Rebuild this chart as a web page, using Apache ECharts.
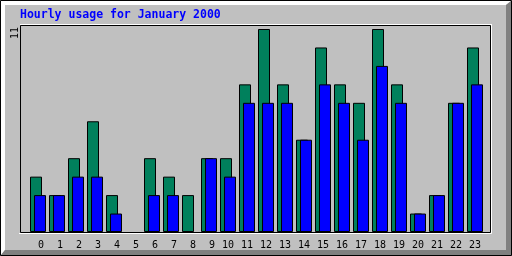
<!DOCTYPE html>
<html>
<head>
<meta charset="utf-8">
<script src="https://cdn.jsdelivr.net/npm/echarts@6/dist/echarts.min.js"></script>
<style>
  html, body { margin: 0; padding: 0; background: #c0c0c0; }
  #chart { width: 512px; height: 256px; }
</style>
</head>
<body>
<div id="chart"></div>
<script>
const hours = ["0","1","2","3","4","5","6","7","8","9","10","11","12","13","14","15","16","17","18","19","20","21","22","23"];
const hits = [3, 2, 4, 6, 2, 0, 4, 3, 2, 4, 4, 8, 11, 8, 5, 10, 8, 7, 11, 8, 1, 2, 7, 10];
const files = [2, 2, 3, 3, 1, 0, 2, 2, 0, 4, 3, 7, 7, 7, 5, 8, 7, 5, 9, 7, 1, 2, 7, 8];
const yMax = 11;

const mono = "DejaVu Sans Mono";
// empty hours draw no bar at all
const noZero = (arr) => arr.map((v) => (v === 0 ? "-" : v));

const chart = echarts.init(document.getElementById("chart"));

const option = {
  backgroundColor: "#c0c0c0",
  animation: false,
  title: {
    text: "Hourly usage for January 2000",
    left: 15,
    top: 4,
    textStyle: { color: "#0000ff", fontFamily: mono, fontSize: 11.5, fontWeight: "bold" }
  },
  grid: { left: 28.5, top: 29, width: 456, height: 203 },
  xAxis: {
    type: "category",
    data: hours,
    axisLine: { show: false },
    axisTick: { show: false },
    axisLabel: {
      interval: 0,
      margin: 8,
      fontFamily: mono,
      fontSize: 10,
      color: "#000",
      formatter: (v) => (v.length < 2 ? " " + v : v)
    }
  },
  yAxis: {
    type: "value",
    min: 0,
    max: yMax,
    interval: yMax,
    splitLine: { show: false },
    axisLine: { show: false },
    axisTick: { show: false },
    axisLabel: {
      rotate: 90,
      margin: 8,
      align: "center",
      padding: [0, 8, 0, 0],
      fontFamily: mono,
      fontSize: 10,
      color: "#000",
      formatter: (v) => (v === yMax ? String(v) : "")
    }
  },
  series: [
    {
      name: "Hits",
      type: "bar",
      data: noZero(hits),
      barWidth: 12,
      barGap: "-66.67%",
      itemStyle: { color: "#00805c", borderColor: "#000", borderWidth: 1 }
    },
    {
      name: "Files",
      type: "bar",
      data: noZero(files),
      barWidth: 12,
      itemStyle: { color: "#0000ff", borderColor: "#000", borderWidth: 1 }
    }
  ],
  graphic: [
    // outer bevel
    { type: "polygon", silent: true, z: -10,
      shape: { points: [[1,1],[511,1],[506,5],[5,5],[5,250],[1,255]] },
      style: { fill: "#ffffff" } },
    { type: "polygon", silent: true, z: -10,
      shape: { points: [[511,1],[511,255],[1,255],[5,250],[506,250],[506,5]] },
      style: { fill: "#808080" } },
    { type: "rect", silent: true, z: -9,
      shape: { x: 0.5, y: 0.5, width: 511, height: 255 },
      style: { fill: null, stroke: "#000", lineWidth: 1 } },
    // plot frame
    { type: "polyline", silent: true, z: -5,
      shape: { points: [[20, 24.5], [491.5, 24.5]] },
      style: { stroke: "#fff", lineWidth: 1 } },
    { type: "polyline", silent: true, z: -5,
      shape: { points: [[491.5, 24], [491.5, 233.5], [19, 233.5]] },
      style: { stroke: "#fff", lineWidth: 1 } },
    { type: "rect", silent: true, z: -5,
      shape: { x: 20.5, y: 25.5, width: 470, height: 207 },
      style: { fill: null, stroke: "#000", lineWidth: 1 } }
  ]
};

chart.setOption(option);
</script>
</body>
</html>
